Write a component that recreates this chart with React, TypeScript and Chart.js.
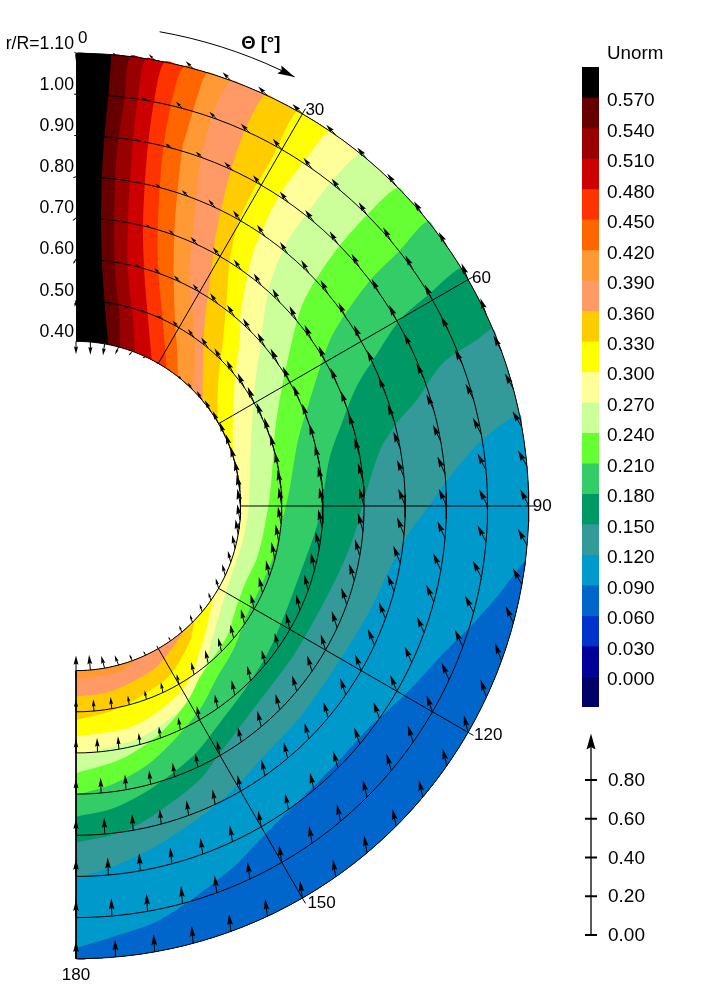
import React, { useEffect, useRef } from "react";
import { Chart, registerables } from "chart.js";

Chart.register(...registerables);

// ---- contour levels: each is a list of [r/R, theta] ----
const c57 = [[.4,11.3],[.458,9.2],[.5,8],[.6,6],[.7,5],[.8,4.5],[.9,4.4],[1,4.5],[1.1,4.5]];
const c54 = [[.4,15.5],[.464,13.3],[.581,9.4],[.7,7.6],[.863,6.6],[1,6.8],[1.1,6.85]];
const c51 = [[.4,21],[.473,17],[.587,12.4],[.706,10.3],[.869,9],[1.005,8.6],[1.1,8.85]];
const c48 = [[.4,27.4],[.485,21.2],[.597,16.1],[.714,13.2],[.875,11.4],[1.012,10.9],[1.1,11.25]];
const c45 = [[.4,33.4],[.499,25],[.607,19.2],[.723,16],[.883,13.8],[1.021,13.3],[1.1,13.8]];
const c42 = [[.4,38.3],[.458,32.4],[.512,28],[.62,22.5],[.735,19.1],[.909,16.5],[1.036,16.5],[1.1,16.85]];
const c39 = [[.423,180],[.417,165],[.4,157],[.4,44.6],[.416,43.5],[.496,35.6],[.56,30.2],[.63,26],[.735,22.8],[.829,20.8],[.918,19.6],[1.036,19.3],[1.1,20.1]];
const c36 = [[.463,180],[.459,170],[.44,155],[.42,147],[.4,138],[.4,50.7],[.452,43],[.55,34.7],[.638,30.7],[.729,27.6],[.825,25.7],[.907,24.7],[.999,24.2],[1.1,24.7]];
const c33 = [[.52,180],[.505,170],[.49,162],[.47,151],[.43,140],[.4,133.7],[.4,59.6],[.45,50],[.507,44],[.539,41.5],[.62,36.2],[.705,32],[.793,29.8],[.88,29.3],[.967,29.4],[1.1,29.2]];
const c30 = [[.56,180],[.552,165],[.513,149],[.449,136.5],[.4,123],[.4,73],[.431,62.1],[.497,51],[.567,44.6],[.602,41.4],[.672,37.7],[.75,35],[.835,33.7],[.918,33.2],[.999,33.5],[1.1,34]];
const c27 = [[.605,180],[.585,165],[.555,152],[.53,145.9],[.46,133.7],[.419,119.1],[.414,101.5],[.42,89.7],[.44,74.3],[.473,64.8],[.528,55.5],[.586,49.7],[.688,42.4],[.75,40.1],[.835,38.5],[.917,38.3],[.998,38.2],[1.1,38.9]];
const c24 = [[.649,180],[.625,170],[.59,160],[.545,150],[.513,144],[.485,131],[.46,122],[.452,115],[.458,105],[.467,90.3],[.483,80.4],[.515,69.8],[.562,61.9],[.662,52.5],[.74,48.2],[.828,46.2],[.909,45.3],[1,45],[1.1,45.3]];
const c21 = [[.702,180],[.68,172],[.645,163],[.58,149],[.539,140.5],[.518,132.5],[.495,124],[.49,112],[.495,104],[.508,91],[.522,84.9],[.563,73.4],[.624,65.6],[.69,59.8],[.744,56.5],[.815,54.2],[.908,52.4],[1.003,51.7],[1.1,51]];
const c18 = [[.755,180],[.74,173],[.71,165],[.671,155],[.632,146.4],[.605,137],[.587,127.4],[.572,118],[.568,108],[.584,96.4],[.597,89.8],[.628,79.1],[.682,72.1],[.74,67],[.812,63.5],[.908,60.1],[1.004,59],[1.1,58.3]];
const c15 = [[.818,180],[.8,172],[.77,165],[.73,155.7],[.695,149.8],[.65,136.5],[.641,123.9],[.645,112.2],[.662,102.9],[.681,95.5],[.696,89.8],[.751,79.6],[.805,75.5],[.867,72.7],[.957,68.7],[1.054,67.5],[1.1,67]];
const c12 = [[.906,180],[.88,174],[.85,167],[.814,158.3],[.788,151],[.76,143.3],[.748,133.3],[.742,121],[.757,110],[.777,101.5],[.812,94.6],[.86,89.8],[.905,86],[.994,81],[1.1,78.3]];
const c09 = [[1.074,180],[1.05,175],[1.026,168.5],[.96,157],[.92,150],[.898,142.7],[.89,135.4],[.892,127.6],[.923,119.5],[.966,111.2],[1.001,107.1],[1.046,102.2],[1.1,97]];
const cTop = [[.4,0],[1.1,0]];

const fieldContours = [cTop, c57, c54, c51, c48, c45, c42, c39, c36, c33, c30, c27, c24, c21, c18, c15, c12, c09];
const fieldColors = ["#000000","#660000","#990000","#CC0000","#FF3300","#FF6600","#FF9933","#FF9966","#FFCC00","#FFFF00","#FFFF99","#CCFF99","#66FF33","#33CC66","#009966","#339999","#0099CC","#0066CC"];

// ---- colour bar ----
const barEdges = [.6,.57,.54,.51,.48,.45,.42,.39,.36,.33,.3,.27,.24,.21,.18,.15,.12,.09,.06,.03,0,-.03];
const barColors = ["#000000","#660000","#990000","#CC0000","#FF3300","#FF6600","#FF9933","#FF9966","#FFCC00","#FFFF00","#FFFF99","#CCFF99","#66FF33","#33CC66","#009966","#339999","#0099CC","#0066CC","#0033CC","#000099","#000066"];
const barTicks = [.57,.54,.51,.48,.45,.42,.39,.36,.33,.3,.27,.24,.21,.18,.15,.12,.09,.06,.03,0];

// ---- grid ----
const ringValues = [.4,.5,.6,.7,.8,.9,1,1.1];
const spokeValues = [30,60,90,120,150];
const ringLabels = ["0.40","0.50","0.60","0.70","0.80","0.90","1.00","r/R=1.10"];
const spokeLabels = ["0","30","60","90","120","150","180"];
const spokeLabelAngles = [0,30,60,90,120,150,180];

// ---- vector scale ----
const scaleTicks = [0,.2,.4,.6,.8];
const scaleTop = 1.04;

// ---- velocity vectors: one entry per 5 degrees on each ring ----
const vecTheta = [0,5,10,15,20,25,30,35,40,45,50,55,60,65,70,75,80,85,90,95,100,105,110,115,120,125,130,135,140,145,150,155,160,165,170,175,180];
const lean04 = [180,180,172,155,140,110,75,50,40,35,30,28,25,22,18,15,12,11,11,10,10,12,14,15,16,17,17,17,22,25,30,28,25,22,15,5,0];
const lean05 = [170,160,125,90,70,55,42,36,33,30,28,25,22,20,16,14,12,11,10,10,10,11,12,13,14,14,14,14,13,13,12,12,11,9,6,3,0];
const lean06 = [150,120,85,55,48,44,40,36,33,30,28,26,24,22,18,16,14,13,12,12,12,12,13,13,14,14,13,13,12,12,11,10,8,6,4,2,0];
const lean07 = [130,100,80,55,47,42,38,35,32,28,26,25,23,22,20,18,17,16,16,16,16,17,18,18,17,17,16,15,14,13,12,10,8,6,4,2,0];
const lean08 = [110,95,85,55,47,40,36,34,33,30,28,26,24,24,23,22,22,22,22,22,22,22,22,22,20,18,17,15,14,12,11,10,8,6,4,2,0];
const lean09 = [90,80,72,55,48,45,40,38,36,33,30,28,26,26,26,25,25,24,24,24,24,24,24,24,22,20,18,16,14,12,11,10,8,6,4,2,0];
const lean10 = [80,70,63,45,45,45,40,38,36,33,30,28,26,27,27,27,27,27,27,27,27,27,25,23,20,18,16,14,12,10,9,8,7,5,3,2,0];
const lean11 = [60,50,45,45,45,45,45,42,40,36,33,30,22,20,27,29,30,29,27,29,29,24,20,18,14,14,13,12,10,9,8,7,6,5,3,1,0];
const size04 = [11,11,10,7,5,3,2,3,5,7,9,11,12,13,14,15,15,15,15,14,13,12,10,10,9,7,7,7,6,4,3,4,6,9,11,13,13];
const size05 = [6,5,4,4,6,6,8,9,11,12,13,14,15,15,16,16,16,16,16,15,15,15,14,14,13,13,12,12,12,11,9,9,8,8,10,10,11];
const size06 = [5,5,4,5,7,8,9,11,12,13,14,15,15,15,16,16,16,16,16,16,15,15,14,14,14,13,13,13,13,12,12,11,10,10,11,12,12];
const size07 = [4,4,4,5,7,9,10,11,12,13,14,15,15,15,15,16,16,16,16,16,15,15,15,15,14,14,14,14,14,13,13,12,12,12,13,13,13];
const size08 = [3,3,4,6,8,9,11,12,12,13,14,14,15,15,15,15,16,16,16,16,16,15,15,15,15,15,14,14,14,14,14,13,13,13,14,14,14];
const size09 = [2,3,5,7,8,10,11,12,13,13,14,14,15,15,15,15,16,16,16,16,16,16,15,15,15,15,15,15,15,14,14,14,14,14,15,15,15];
const size10 = [2,3,6,8,9,11,12,12,13,13,14,14,15,15,15,15,16,16,16,16,16,16,16,16,15,15,15,15,15,15,15,15,15,15,15,15,15];
const size11 = [2,3,7,9,10,11,12,12,13,13,14,14,15,15,15,15,16,16,16,16,16,16,16,16,15,15,15,15,15,15,15,15,15,15,15,15,15];
const leanTable = [lean04,lean05,lean06,lean07,lean08,lean09,lean10,lean11];
const sizeTable = [size04,size05,size06,size07,size08,size09,size10,size11];

// ---- layout constants ----
const W = 724, H = 1005, CX = 76, CY = 506, PX_PER_UNIT = 411.6;
const R_IN = 0.4, R_OUT = 1.1;
const VECTOR_GAIN = 1.17;
const FONT = "'Liberation Sans', Arial, sans-serif";

const toXY = (r: number, t: number) => {
  const a = (t * Math.PI) / 180;
  return { x: r * Math.sin(a), y: r * Math.cos(a) };
};

// arcs and spokes stay exact; contour vertices are kept as read and smoothed by the line's tension
const polarPath = (pts: number[][]) => {
  const out: { x: number; y: number }[] = [];
  for (let i = 0; i < pts.length; i++) {
    if (i === 0) { out.push(toXY(pts[0][0], pts[0][1])); continue; }
    const [r0, t0] = pts[i - 1];
    const [r1, t1] = pts[i];
    let n = 1;
    if (r0 === r1) n = Math.max(1, Math.ceil(Math.abs(t1 - t0) / 2));
    else if (t0 === t1) n = Math.max(1, Math.ceil(Math.abs(r1 - r0) / 0.02));
    for (let k = 1; k <= n; k++) out.push(toXY(r0 + ((r1 - r0) * k) / n, t0 + ((t1 - t0) * k) / n));
  }
  return out;
};

const regionBelow = (contour: number[][]) => {
  const pts = [...contour, [R_OUT, 180]];
  if (contour[0][1] < 180) pts.push([R_IN, 180]);
  pts.push(contour[0]);
  return polarPath(pts);
};

function drawArrow(ctx: CanvasRenderingContext2D, bx: number, by: number, tx: number, ty: number, headLen: number, headWid: number, lw = 1) {
  const len = Math.hypot(tx - bx, ty - by) || 1;
  const ux = (tx - bx) / len, uy = (ty - by) / len;
  const nx = -uy, ny = ux;
  ctx.strokeStyle = "#000";
  ctx.fillStyle = "#000";
  ctx.lineWidth = lw;
  ctx.beginPath();
  ctx.moveTo(bx, by);
  ctx.lineTo(tx - ux * headLen * 0.5, ty - uy * headLen * 0.5);
  ctx.stroke();
  ctx.beginPath();
  ctx.moveTo(tx, ty);
  ctx.lineTo(tx - ux * headLen + (nx * headWid) / 2, ty - uy * headLen + (ny * headWid) / 2);
  ctx.lineTo(tx - ux * headLen * 0.85, ty - uy * headLen * 0.85);
  ctx.lineTo(tx - ux * headLen - (nx * headWid) / 2, ty - uy * headLen - (ny * headWid) / 2);
  ctx.closePath();
  ctx.fill();
}

export default function App() {
  const mainRef = useRef<HTMLCanvasElement>(null);
  const barRef = useRef<HTMLCanvasElement>(null);
  const scaleRef = useRef<HTMLCanvasElement>(null);

  useEffect(() => {
    const lineDs = (data: any[], order: number, extra: any = {}) => ({
      data, order, showLine: true, pointRadius: 0, borderColor: "#000", borderWidth: 1, fill: false, clip: false, ...extra,
    });

    const datasets: any[] = [];
    const vectors: any[] = [];
    ringValues.forEach((r, i) => {
      vecTheta.forEach((t, j) => {
        vectors.push({ ...toXY(r, t), lean: leanTable[i][j], size: sizeTable[i][j] });
      });
    });
    datasets.push({ data: vectors, order: 0, showLine: false, pointRadius: 0, clip: false });
    const thetaArc = lineDs(polarPath([[1.17, 10], [1.17, 27]]), 1);
    datasets.push(thetaArc);
    ringValues.forEach((r) => datasets.push(lineDs(polarPath([[r, 0], [r, 180]]), 2)));
    spokeValues.forEach((t) => datasets.push(lineDs(polarPath([[R_IN, t], [1.115, t]]), 2)));
    datasets.push(lineDs(polarPath([[R_IN, 180], [R_OUT, 180]]), 2));
    fieldContours.forEach((c, i) => {
      datasets.push({
        data: regionBelow(c),
        order: 100 - i,
        showLine: true,
        pointRadius: 0,
        borderWidth: 0,
        tension: 0.3,
        borderColor: fieldColors[i],
        backgroundColor: fieldColors[i],
        fill: "shape",
      });
    });

    const mainPlugin = {
      id: "mainMarks",
      afterDatasetsDraw(chart: any) {
        const { ctx, scales } = chart;
        const X = (v: number) => scales.x.getPixelForValue(v);
        const Y = (v: number) => scales.y.getPixelForValue(v);
        ctx.save();
        // arrows
        const meta = chart.getDatasetMeta(0);
        meta.data.forEach((el: any, i: number) => {
          const v = vectors[i];
          const a = (v.lean * Math.PI) / 180;
          const s = v.size * VECTOR_GAIN;
          const tx = el.x - Math.sin(a) * s;
          const ty = el.y - Math.cos(a) * s;
          const hl = Math.min(s * 0.62, 11);
          drawArrow(ctx, el.x, el.y, tx, ty, hl, hl * 0.52, 1);
        });
        // theta arc head
        const arc = thetaArc.data;
        const p = arc[arc.length - 1], q = arc[arc.length - 2];
        drawArrow(ctx, X(q.x), Y(q.y), X(p.x), Y(p.y), 17, 9, 1);
        // text
        ctx.fillStyle = "#000";
        ctx.font = `17.7px ${FONT}`;
        ctx.textAlign = "right";
        ctx.textBaseline = "middle";
        ringValues.forEach((r, i) => ctx.fillText(ringLabels[i], X(0) - 2, Y(r) - 9.5));
        ctx.font = `17px ${FONT}`;
        const offs = [[2, -15, "left"], [3, -4, "left"], [4, -1, "left"], [4, 0, "left"], [6, 3, "left"], [5, 5, "left"], [0, 16.5, "center"]];
        spokeLabels.forEach((s, i) => {
          const pt = toXY(R_OUT, spokeLabelAngles[i]);
          ctx.textAlign = offs[i][2];
          ctx.fillText(s, X(pt.x) + (offs[i][0] as number), Y(pt.y) + (offs[i][1] as number));
        });
        ctx.font = `bold 18.5px ${FONT}`;
        ctx.textAlign = "center";
        const tp = toXY(1.209, 21.8);
        ctx.fillText("\u0398 [\u00b0]", X(tp.x), Y(tp.y));
        ctx.restore();
      },
    };

    const main = new Chart(mainRef.current!, {
      type: "scatter",
      data: { datasets },
      plugins: [mainPlugin],
      options: {
        animation: false, responsive: false, devicePixelRatio: 1,
        layout: { padding: 0 },
        plugins: { legend: { display: false }, tooltip: { enabled: false } },
        scales: {
          x: { type: "linear", display: false, min: (0 - CX) / PX_PER_UNIT, max: (W - CX) / PX_PER_UNIT },
          y: { type: "linear", display: false, min: (CY - H) / PX_PER_UNIT, max: CY / PX_PER_UNIT },
        },
      },
    } as any);

    // colour bar
    const barPlugin = {
      id: "barTitle",
      afterDraw(chart: any) {
        const { ctx, chartArea } = chart;
        ctx.save();
        ctx.fillStyle = "#000";
        ctx.font = `18.8px ${FONT}`;
        ctx.textAlign = "left";
        ctx.textBaseline = "middle";
        ctx.fillText("Unorm", chartArea.right + 8, chartArea.top - 13);
        ctx.restore();
      },
    };
    const bar = new Chart(barRef.current!, {
      type: "bar",
      data: {
        labels: [""],
        datasets: barColors.map((c, i) => ({
          data: [[barEdges[i + 1], barEdges[i]]],
          backgroundColor: c,
          borderWidth: 0,
          grouped: false,
          barPercentage: 1,
          categoryPercentage: 1,
        })),
      },
      plugins: [barPlugin],
      options: {
        animation: false, responsive: false, devicePixelRatio: 1,
        layout: { padding: { top: 67, bottom: 298, left: 0, right: 0 } },
        plugins: { legend: { display: false }, tooltip: { enabled: false } },
        scales: {
          x: { display: false },
          y: {
            position: "right", min: -0.03, max: 0.6,
            afterFit: (s: any) => { s.width = 125; },
            afterBuildTicks: (s: any) => { s.ticks = barTicks.map((value) => ({ value })); },
            grid: { display: false, drawTicks: false },
            border: { display: false },
            ticks: {
              autoSkip: false, padding: 8, labelOffset: 3.5, color: "#000",
              font: { family: FONT, size: 19 },
              callback: (v: any) => Number(v).toFixed(3),
            },
          },
        },
      },
    } as any);

    // vector scale
    const scalePlugin = {
      id: "scaleHead",
      afterDatasetsDraw(chart: any) {
        const { ctx, scales } = chart;
        const x = scales.x.getPixelForValue(0);
        ctx.save();
        drawArrow(ctx, x, scales.y.getPixelForValue(0), x, scales.y.getPixelForValue(scaleTop), 16, 9, 1.3);
        ctx.restore();
      },
    };
    const scale = new Chart(scaleRef.current!, {
      type: "scatter",
      data: {
        datasets: [
          {
            data: scaleTicks.map((y) => ({ x: 0, y })),
            showLine: false, pointStyle: "line", pointRadius: 6,
            pointBorderColor: "#000", pointBorderWidth: 2, clip: false,
          },
        ],
      },
      plugins: [scalePlugin],
      options: {
        animation: false, responsive: false, devicePixelRatio: 1,
        layout: { padding: { top: 733.5, bottom: 70, left: 0, right: 0 } },
        plugins: { legend: { display: false }, tooltip: { enabled: false } },
        scales: {
          x: { type: "linear", display: false, min: -1, max: 1 },
          y: {
            position: "right", min: 0, max: scaleTop,
            afterFit: (s: any) => { s.width = 123; },
            afterBuildTicks: (s: any) => { s.ticks = scaleTicks.map((value) => ({ value })); },
            grid: { display: false, drawTicks: false },
            border: { display: false },
            ticks: {
              autoSkip: false, padding: 11, labelOffset: 1, color: "#000",
              font: { family: FONT, size: 19 },
              callback: (v: any) => Number(v).toFixed(2),
            },
          },
        },
      },
    } as any);

    return () => {
      main.destroy();
      bar.destroy();
      scale.destroy();
    };
  }, []);

  const abs = (left: number, width: number): React.CSSProperties => ({ position: "absolute", left, top: 0, width, height: H, display: "block" });
  return (
    <div style={{ position: "absolute", left: 0, top: 0, width: W, height: H, overflow: "hidden", background: "#fff" }}>
      <canvas ref={mainRef} width={W} height={H} style={abs(0, W)} />
      <canvas ref={barRef} width={142} height={H} style={abs(582, 142)} />
      <canvas ref={scaleRef} width={143} height={H} style={abs(577, 143)} />
    </div>
  );
}
